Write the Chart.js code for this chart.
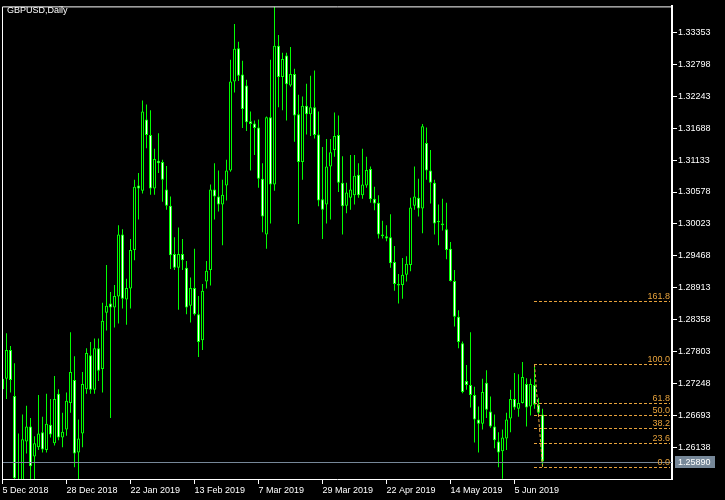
<!DOCTYPE html>
<html><head><meta charset="utf-8">
<script src="https://cdn.jsdelivr.net/npm/chart.js@4.4.1/dist/chart.umd.min.js"></script>
<style>html,body{margin:0;padding:0;background:#000;}canvas{display:block;}</style>
</head><body>
<canvas id="c" width="725" height="500"></canvas>
<script>
const symbolTitle = 'GBPUSD,Daily';
const opens = [1.2733,1.2733,1.2783,1.2703,1.2556,1.2495,1.2624,1.2650,1.2598,1.2614,
1.2640,1.2609,1.2653,1.2621,1.2707,1.2631,1.2645,1.2691,1.2731,1.2605,
1.2638,1.2715,1.2774,1.2714,1.2786,1.2750,1.2848,1.2864,1.2857,1.2876,
1.2984,1.2871,1.2890,1.2957,1.3069,1.3060,1.3184,1.3157,1.3064,1.3112,
1.3110,1.3062,1.3034,1.2950,1.2926,1.2950,1.2926,1.2860,1.2891,1.2845,
1.2800,1.2902,1.2922,1.3062,1.3050,1.3036,1.3069,1.3095,1.3250,1.3308,
1.3262,1.3243,1.3181,1.3177,1.3170,1.3081,1.2984,1.3188,1.3071,1.3312,
1.3258,1.3295,1.3243,1.3263,1.3193,1.3110,1.3208,1.3193,1.3205,1.3158,
1.3045,1.3036,1.3102,1.3131,1.3157,1.3074,1.3034,1.3048,1.3052,1.3088,
1.3052,1.3069,1.3098,1.3046,1.3039,1.2984,1.2981,1.2979,1.2936,1.2898,
1.2896,1.2914,1.2931,1.3034,1.3048,1.3029,1.3143,1.3095,1.3074,1.3008,
1.3003,1.2993,1.2959,1.2903,1.2841,1.2795,1.2729,1.2722,1.2705,1.2662,
1.2655,1.2726,1.2676,1.2650,1.2624,1.2607,1.2629,1.2664,1.2698,1.2681,
1.2691,1.2724,1.2685,1.2722,1.2688,1.2671];
const highs = [1.2743,1.2812,1.2790,1.2760,1.2638,1.2671,1.2686,1.2665,1.2633,1.2705,
1.2667,1.2707,1.2698,1.2738,1.2715,1.2674,1.2709,1.2814,1.2772,1.2662,
1.2745,1.2786,1.2797,1.2803,1.2803,1.2865,1.2931,1.2884,1.2896,1.3000,
1.2993,1.2907,1.2976,1.3079,1.3091,1.3217,1.3210,1.3200,1.3133,1.3160,
1.3114,1.3103,1.3050,1.2979,1.2996,1.2976,1.2938,1.2909,1.2959,1.2877,
1.2898,1.2938,1.3071,1.3108,1.3095,1.3079,1.3114,1.3288,1.3350,1.3319,
1.3286,1.3253,1.3198,1.3182,1.3184,1.3108,1.3189,1.3288,1.3380,1.3331,
1.3300,1.3300,1.3310,1.3272,1.3227,1.3224,1.3246,1.3260,1.3269,1.3198,
1.3136,1.3150,1.3150,1.3196,1.3191,1.3120,1.3074,1.3122,1.3122,1.3108,
1.3133,1.3119,1.3102,1.3067,1.3052,1.3008,1.3000,1.3019,1.2964,1.2915,
1.2943,1.2946,1.3048,1.3102,1.3081,1.3176,1.3170,1.3131,1.3079,1.3036,
1.3046,1.3039,1.2971,1.2922,1.2852,1.2798,1.2757,1.2814,1.2719,1.2685,
1.2733,1.2748,1.2702,1.2671,1.2640,1.2645,1.2674,1.2714,1.2743,1.2741,
1.2762,1.2734,1.2733,1.2758,1.2700,1.2681];
const lows = [1.2709,1.2698,1.2709,1.2507,1.2477,1.2477,1.2603,1.2556,1.2556,1.2609,
1.2605,1.2605,1.2631,1.2617,1.2626,1.2614,1.2634,1.2674,1.2579,1.2405,
1.2614,1.2707,1.2707,1.2707,1.2729,1.2709,1.2817,1.2665,1.2822,1.2829,
1.2855,1.2827,1.2855,1.2939,1.3010,1.3055,1.3134,1.3053,1.3053,1.3091,
1.3041,1.3027,1.2924,1.2922,1.2853,1.2922,1.2845,1.2831,1.2843,1.2771,
1.2783,1.2890,1.2895,1.3010,1.3024,1.2965,1.3043,1.3093,1.3231,1.3251,
1.3169,1.3164,1.3095,1.3122,1.3065,1.2988,1.2959,1.3003,1.3060,1.3205,
1.3200,1.3182,1.3241,1.3145,1.3002,1.3079,1.3158,1.3155,1.3151,1.3033,
1.2976,1.3003,1.3010,1.3119,1.3058,1.2984,1.3021,1.3027,1.3036,1.3048,
1.3046,1.3065,1.3039,1.3026,1.2977,1.2977,1.2972,1.2926,1.2886,1.2864,
1.2872,1.2902,1.2920,1.3027,1.3015,1.2986,1.3079,1.3038,1.2984,1.2965,
1.2991,1.2941,1.2902,1.2824,1.2786,1.2708,1.2714,1.2683,1.2622,1.2605,
1.2645,1.2665,1.2648,1.2612,1.2579,1.2559,1.2609,1.2640,1.2679,1.2667,
1.2690,1.2650,1.2669,1.2681,1.2669,1.2580];
const closes = [1.2715,1.2783,1.2731,1.2560,1.2490,1.2628,1.2650,1.2581,1.2621,1.2638,
1.2610,1.2655,1.2636,1.2698,1.2631,1.2641,1.2695,1.2745,1.2603,1.2629,
1.2724,1.2778,1.2714,1.2786,1.2747,1.2834,1.2860,1.2857,1.2877,1.2984,
1.2872,1.2891,1.2957,1.3067,1.3064,1.3198,1.3157,1.3064,1.3115,1.3108,
1.3079,1.3034,1.2948,1.2926,1.2950,1.2939,1.2857,1.2891,1.2845,1.2797,
1.2886,1.2921,1.3062,1.3050,1.3036,1.3053,1.3095,1.3250,1.3307,1.3260,
1.3202,1.3179,1.3176,1.3169,1.3081,1.3015,1.3188,1.3071,1.3312,1.3258,
1.3289,1.3245,1.3263,1.3191,1.3110,1.3208,1.3193,1.3205,1.3157,1.3043,
1.3027,1.3102,1.3127,1.3155,1.3074,1.3033,1.3057,1.3062,1.3086,1.3052,
1.3071,1.3096,1.3045,1.3038,1.2984,1.2981,1.2977,1.2934,1.2898,1.2895,
1.2914,1.2933,1.3031,1.3050,1.3029,1.3172,1.3095,1.3074,1.3003,1.3005,
1.3000,1.2957,1.2903,1.2841,1.2797,1.2710,1.2722,1.2705,1.2662,1.2655,
1.2710,1.2679,1.2650,1.2626,1.2605,1.2631,1.2662,1.2698,1.2683,1.2691,
1.2736,1.2683,1.2724,1.2688,1.2674,1.2589];
const yTickValues = [1.26138,1.26693,1.27248,1.27803,1.28358,1.28913,1.29468,1.30023,1.30578,1.31133,1.31688,1.32243,1.32798,1.33353];
const xTickBars = [0,16,32,48,64,80,96,112,128];
const xTickLabels = ['5 Dec 2018','28 Dec 2018','22 Jan 2019','13 Feb 2019','7 Mar 2019','29 Mar 2019','22 Apr 2019','14 May 2019','5 Jun 2019'];
const lastPrice = 1.25890;
const fibLevels = [0, 23.6, 38.2, 50.0, 61.8, 100.0, 161.8];
const fibHigh = 1.27582, fibLow = 1.25801, fibStartBar = 133, fibEndBar = 135;
const yMin = 1.25587, yMax = 1.33806;
const xMin = -0.125, xMax = 167.375;

const FONT_FAMILY = "'Liberation Sans', sans-serif";
const FONT_SIZE = 9;
const LIME = '#00ff00';
const FIB = '#e8a33c';

const idx = opens.map((_, i) => i);

const overlay = {
  id: 'overlay',
  afterDatasetsDraw(chart) {
    const {ctx, chartArea: a, scales: {x, y}} = chart;
    ctx.save();
    ctx.beginPath(); ctx.rect(a.left, a.top, a.right - a.left, a.bottom - a.top); ctx.clip();
    const py = Math.round(y.getPixelForValue(lastPrice)) + 0.5;
    ctx.strokeStyle = '#778899'; ctx.lineWidth = 1;
    ctx.beginPath(); ctx.moveTo(a.left, py); ctx.lineTo(a.right, py); ctx.stroke();
    const fx = x.getPixelForValue(fibStartBar);
    const ex = x.getPixelForValue(fibEndBar);
    ctx.strokeStyle = FIB; ctx.setLineDash([3, 2]);
    ctx.beginPath();
    ctx.moveTo(fx, y.getPixelForValue(fibHigh));
    ctx.lineTo(ex, y.getPixelForValue(fibLow));
    ctx.stroke();
    ctx.font = FONT_SIZE + 'px ' + FONT_FAMILY;
    ctx.fillStyle = FIB; ctx.textAlign = 'right'; ctx.textBaseline = 'alphabetic';
    fibLevels.forEach(l => {
      const v = fibLow + (fibHigh - fibLow) * l / 100;
      const ly = Math.round(y.getPixelForValue(v)) + 0.5;
      ctx.beginPath(); ctx.moveTo(Math.floor(fx), ly); ctx.lineTo(a.right - 2, ly); ctx.stroke();
      ctx.fillText(l.toFixed(1), a.right - 2, ly - 3);
    });
    ctx.restore();
  },
  afterDraw(chart) {
    const {ctx, chartArea: a, scales: {y}} = chart;
    ctx.save();
    ctx.strokeStyle = '#ffffff'; ctx.lineWidth = 1;
    ctx.beginPath();
    ctx.moveTo(a.left + 0.5, a.bottom); ctx.lineTo(a.left + 0.5, a.top + 0.5); ctx.lineTo(a.right, a.top + 0.5);
    ctx.stroke();
    const py = Math.round(y.getPixelForValue(lastPrice));
    ctx.fillStyle = '#778899';
    ctx.fillRect(a.right + 3, py - 6, 40, 12);
    ctx.font = FONT_SIZE + 'px ' + FONT_FAMILY;
    ctx.fillStyle = '#ffffff'; ctx.textAlign = 'left'; ctx.textBaseline = 'middle';
    ctx.fillText(lastPrice.toFixed(5), a.right + 6, py + 0.5);
    ctx.textBaseline = 'alphabetic';
    ctx.fillText(symbolTitle, 7, 13);
    ctx.restore();
  }
};

new Chart(document.getElementById('c'), {
  type: 'bar',
  data: {
    datasets: [
      {
        label: 'bodies',
        order: 0,
        data: idx.map(i => ({x: i, y: [opens[i], closes[i]]})),
        backgroundColor: c => closes[c.dataIndex] < opens[c.dataIndex] ? '#ffffff' : '#000000',
        borderColor: LIME,
        borderWidth: 1,
        borderSkipped: false,
        inflateAmount: 0,
        barThickness: 3,
        grouped: false,
        clip: 0
      },
      {
        label: 'wicks',
        order: 1,
        data: idx.map(i => ({x: i, y: [lows[i], highs[i]]})),
        backgroundColor: LIME,
        borderWidth: 0,
        inflateAmount: 0,
        barThickness: 1,
        grouped: false,
        clip: 0
      }
    ]
  },
  options: {
    responsive: false,
    animation: false,
    devicePixelRatio: 1,
    layout: {padding: {left: 2, top: 2, right: 0, bottom: 0}},
    plugins: {legend: {display: false}, tooltip: {enabled: false}},
    scales: {
      x: {
        type: 'linear',
        offset: false,
        min: xMin, max: xMax,
        afterFit: s => { s.height = 21; },
        afterBuildTicks: s => { s.ticks = xTickBars.map(v => ({value: v})); },
        grid: {display: true, offset: false, drawOnChartArea: false, drawTicks: true, tickLength: 5, color: '#ffffff', lineWidth: 1},
        border: {display: true, color: '#ffffff', width: 1},
        ticks: {
          color: '#ffffff', font: {family: FONT_FAMILY, size: FONT_SIZE},
          align: 'start', padding: 1, autoSkip: false, maxRotation: 0, minRotation: 0,
          callback: v => { const k = xTickBars.indexOf(v); return k >= 0 ? xTickLabels[k] : ''; }
        }
      },
      y: {
        type: 'linear',
        position: 'right',
        min: yMin, max: yMax,
        afterFit: s => { s.width = 53; },
        afterBuildTicks: s => { s.ticks = yTickValues.map(v => ({value: v})); },
        grid: {display: true, drawOnChartArea: false, drawTicks: true, tickLength: 5, color: '#ffffff', lineWidth: 1},
        border: {display: true, color: '#ffffff', width: 2},
        ticks: {
          color: '#ffffff', font: {family: FONT_FAMILY, size: FONT_SIZE},
          padding: 1, autoSkip: false,
          callback: v => v.toFixed(5)
        }
      }
    }
  },
  plugins: [overlay]
});
</script>
</body></html>
